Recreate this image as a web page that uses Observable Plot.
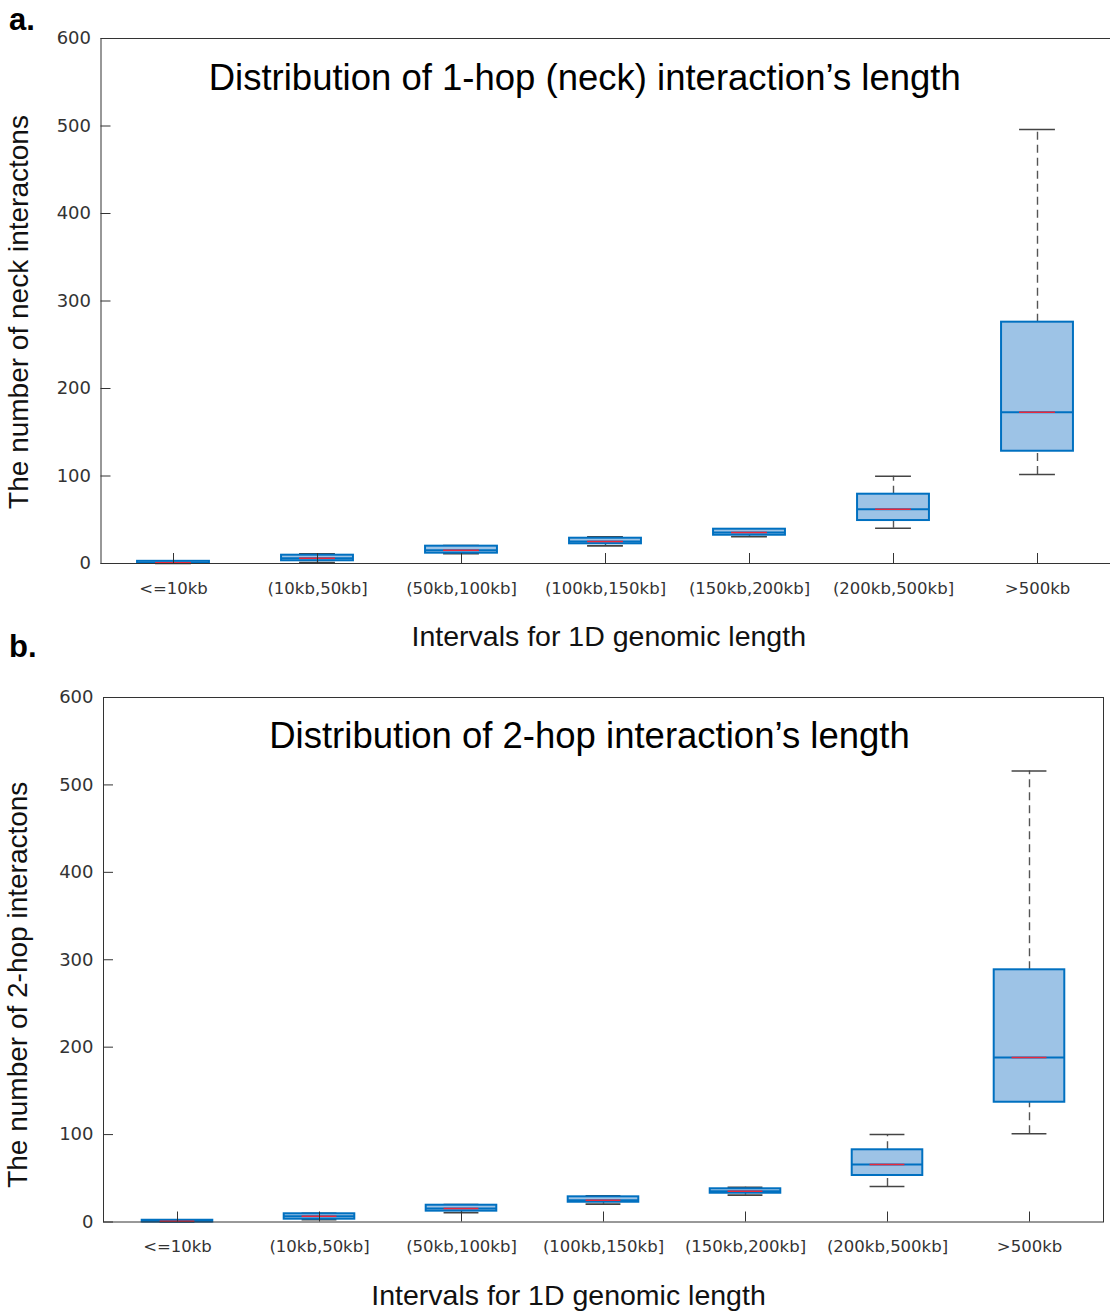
<!DOCTYPE html>
<html><head><meta charset="utf-8">
<script src="https://cdn.jsdelivr.net/npm/d3@7"></script>
<script src="https://cdn.jsdelivr.net/npm/@observablehq/plot@0.6"></script>
<style>
html,body{margin:0;padding:0;background:#fff;overflow:hidden}
#wrap{position:relative;width:1110px;height:1315px;font-family:"Liberation Sans",Arial,sans-serif}
.panel{position:absolute;left:0}
.tag{position:absolute;left:9px;font-weight:bold;font-size:31px;line-height:1;color:#000;font-family:"Liberation Sans",Arial,sans-serif}
g[aria-label="x-axis tick label"] text, g[aria-label="y-axis tick label"] text{font-family:"DejaVu Sans",sans-serif}
</style></head><body>
<div id="wrap"></div>
<script>
// ---- data ----
const categories = ["<=10kb","(10kb,50kb]","(50kb,100kb]","(100kb,150kb]","(150kb,200kb]","(200kb,500kb]",">500kb"];
const yTicks = [0,100,200,300,400,500,600];

// panel a: 1-hop (neck) interactions
const lowA  = [0,   1.1, 11.1, 20.2, 30.5, 40.3, 101.7];
const q1A   = [0,   3.1, 11.8, 22.5, 32.3, 49.1, 128.3];
const medA  = [1,   6.1, 15.2, 25.1, 35.4, 62.0, 172.9];
const q3A   = [2.5, 9.5, 19.8, 28.9, 39.2, 79.2, 275.8];
const highA = [3,  11.1, 20.6, 30.5, 39.6, 99.8, 496.0];

// panel b: 2-hop interactions
const lowB  = [0,   2.5, 10.5, 20.4, 30.7, 40.6, 101.0];
const q1B   = [0,   3.2, 12.4, 22.6, 32.9, 53.2, 137.0];
const medB  = [1,   6.6, 15.4, 24.9, 35.2, 65.8, 188.2];
const q3B   = [2,   9.4, 19.2, 28.8, 38.0, 82.6, 288.5];
const highB = [2,  10.0, 20.0, 30.0, 39.8, 100.1, 516.0];

const titleA = "Distribution of 1-hop (neck) interaction\u2019s length";
const titleB = "Distribution of 2-hop interaction\u2019s length";
const yLabelA = "The number of neck interactons";
const yLabelB = "The number of 2-hop interactons";
const xLabel = "Intervals for 1D genomic length";

function rowsOf(low,q1,med,q3,high){
  return categories.map((c,i)=>({cat:c, low:low[i], q1:q1[i], med:med[i], q3:q3[i], high:high[i]}));
}

function panel(o){
  const rows = rowsOf(o.low,o.q1,o.med,o.q3,o.high);
  const plotW = o.width - o.marginLeft - o.marginRight;
  const plotH = o.height - o.marginTop - o.marginBottom;
  const bw = plotW / categories.length;
  const axisCol = "#333";
  return Plot.plot({
    width:o.width, height:o.height,
    marginTop:o.marginTop, marginBottom:o.marginBottom, marginLeft:o.marginLeft, marginRight:o.marginRight,
    style:{fontFamily:'"Liberation Sans",Arial,sans-serif', background:"#fff", overflow:"visible"},
    x:{type:"band", domain:categories, padding:0},
    y:{domain:[0,600]},
    marks:[
      Plot.ruleX(rows,{x:"cat", y1:"q3", y2:"high", stroke:"#555", strokeWidth:1.4, strokeDasharray:"8,5"}),
      Plot.ruleX(rows,{x:"cat", y1:"low", y2:"q1", stroke:"#555", strokeWidth:1.4, strokeDasharray:"8,5"}),
      Plot.tickY(rows,{x:"cat", y:"high", stroke:"#444", strokeWidth:1.6, insetLeft:bw*3/8, insetRight:bw*3/8}),
      Plot.tickY(rows,{x:"cat", y:"low", stroke:"#444", strokeWidth:1.6, insetLeft:bw*3/8, insetRight:bw*3/8}),
      Plot.barY(rows,{x:"cat", y1:"q1", y2:"q3", fill:"#9DC3E6", stroke:"#0070C0", strokeWidth:2, insetLeft:bw/4, insetRight:bw/4}),
      Plot.tickY(rows,{x:"cat", y:"med", stroke:"#0070C0", strokeWidth:2, insetLeft:bw/4, insetRight:bw/4}),
      Plot.tickY(rows,{x:"cat", y:"med", stroke:"#E8283C", strokeWidth:1.5, insetLeft:bw*3/8, insetRight:bw*3/8}),
      Plot.frame({stroke:axisCol, strokeWidth:1}),
      Plot.ruleY(yTicks,{y:d=>d, stroke:axisCol, strokeWidth:1, insetRight:plotW-10}),
      Plot.ruleX(categories,{x:d=>d, stroke:axisCol, strokeWidth:1, insetTop:plotH-10}),
      Plot.axisY({ticks:yTicks, tickSize:0, tickPadding:10, fontSize:18, fill:"#333", label:null}),
      Plot.axisX({tickSize:0, tickPadding:o.xTickPad, fontSize:16.5, fill:"#333", label:null}),
      Plot.text([o.title],{text:d=>d, frameAnchor:"top", lineAnchor:"middle", textAnchor:"middle", dx:o.titleDx, dy:o.titleDy, fontSize:36.5, fill:"#000"}),
      Plot.text([xLabel],{text:d=>d, frameAnchor:"bottom", lineAnchor:"middle", textAnchor:"middle", dx:o.xlDx, dy:o.xlDy, fontSize:28.5, fill:"#111"}),
      Plot.text([o.ylabel],{text:d=>d, frameAnchor:"left", rotate:-90, lineAnchor:"middle", textAnchor:"middle", dx:o.ylDx, dy:o.ylDy, fontSize:28, fill:"#111"})
    ]
  });
}

const wrap = document.getElementById("wrap");

const svgA = panel({low:lowA,q1:q1A,med:medA,q3:q3A,high:highA, title:titleA, ylabel:yLabelA,
  width:1110, height:658, marginTop:38, marginBottom:95, marginLeft:100.5, marginRight:0,
  xTickPad:19, titleDx:-21, titleDy:40, xlDx:3, xlDy:73, ylDx:-82, ylDy:11});
svgA.classList.add("panel"); svgA.style.top = "0px";
wrap.appendChild(svgA);

const svgB = panel({low:lowB,q1:q1B,med:medB,q3:q3B,high:highB, title:titleB, ylabel:yLabelB,
  width:1110, height:657, marginTop:39, marginBottom:93.5, marginLeft:103, marginRight:7,
  xTickPad:18, titleDx:-14, titleDy:39, xlDx:-35, xlDy:74, ylDx:-85, ylDy:25});
svgB.classList.add("panel"); svgB.style.top = "658px";
wrap.appendChild(svgB);

const tagA = document.createElement("div"); tagA.className="tag"; tagA.textContent="a."; tagA.style.top="4px";
const tagB = document.createElement("div"); tagB.className="tag"; tagB.textContent="b."; tagB.style.top="631px";
wrap.appendChild(tagA); wrap.appendChild(tagB);
</script>
</body></html>
